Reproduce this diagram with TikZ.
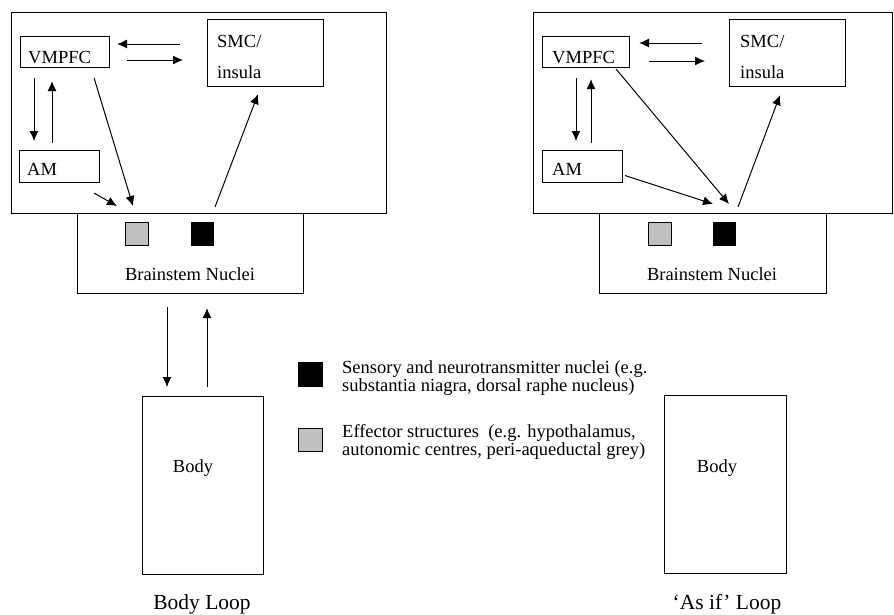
\documentclass[tikz,border=0pt]{standalone}
\usepackage{fontspec}
\setmainfont{Liberation Serif}
\usetikzlibrary{calc,arrows.meta,positioning}
\definecolor{effgrey}{RGB}{192,192,192}
\tikzstyle{box}=[draw,line width=1.1pt,inner sep=0pt,anchor=north west]
\tikzstyle{lbl}=[inner sep=0pt,font=\fontsize{18.5}{18}\selectfont]
\tikzstyle{caption}=[inner sep=0pt,font=\fontsize{21.5}{22}\selectfont]
\tikzstyle{every edge}=[-{Latex[length=10pt,width=9pt]},line width=1pt,draw]

\begin{document}
\begin{tikzpicture}[x=1pt,y=-1pt]
        \useasboundingbox (0,0) rectangle (894,614);
        % Body loop (left):
        \node (outL) [box,minimum width=375pt,minimum height=201pt] at (11,12) {};
        \node (vmL) [box,minimum width=89pt,minimum height=31pt] at (20,36) {};
        \node (smcL) [box,minimum width=116pt,minimum height=67pt] at (207,19) {};
        \node (amL) [box,minimum width=80pt,minimum height=32pt] at (19,150) {};
        \node (bsL) [box,fill=white,minimum width=226pt,minimum height=80pt] at (77,213) {};
        \node (effL) [box,fill=effgrey,minimum width=23pt,minimum height=23pt] at (125,222) {};
        \node (senL) [box,fill=black,minimum width=22pt,minimum height=23pt] at (191,222) {};
        \node (bodyL) [box,minimum width=121pt,minimum height=178pt] at (142,396) {};
        \node (vmLt) [lbl,anchor=base west] at (28,63) {VMPFC};
        \node (smcLt) [lbl,anchor=base west,align=left] at (217,78) {SMC/\\[13pt]insula};
        \node (amLt) [lbl,anchor=base west] at (27,175) {AM};
        \node (bsLt) [lbl,anchor=base] at (190,280) {Brainstem Nuclei};
        \node (bodyLt) [lbl,anchor=base] at (193,472) {Body};
        \node (loopL) [caption,anchor=base] at (202,609) {Body Loop};

        % 'As if' loop (right):
        \node (outR) [box,minimum width=359pt,minimum height=201pt] at (533,12) {};
        \node (vmR) [box,minimum width=87pt,minimum height=31pt] at (542,36) {};
        \node (smcR) [box,minimum width=116pt,minimum height=67pt] at (729,19) {};
        \node (amR) [box,minimum width=80pt,minimum height=32pt] at (542,150) {};
        \node (bsR) [box,fill=white,minimum width=227pt,minimum height=80pt] at (599,213) {};
        \node (effR) [box,fill=effgrey,minimum width=23pt,minimum height=23pt] at (648,222) {};
        \node (senR) [box,fill=black,minimum width=22pt,minimum height=23pt] at (713,222) {};
        \node (bodyR) [box,minimum width=122pt,minimum height=178pt] at (664,395) {};
        \node (vmRt) [lbl,anchor=base west] at (552,63) {VMPFC};
        \node (smcRt) [lbl,anchor=base west,align=left] at (740,78) {SMC/\\[13pt]insula};
        \node (amRt) [lbl,anchor=base west] at (552,175) {AM};
        \node (bsRt) [lbl,anchor=base] at (712,280) {Brainstem Nuclei};
        \node (bodyRt) [lbl,anchor=base] at (717,472) {Body};
        \node (loopR) [caption,anchor=base] at (727,609) {‘As if’ Loop};

        % Legend:
        \node (legSen) [box,fill=black,minimum width=24pt,minimum height=24pt] at (298,362) {};
        \node (legEff) [box,fill=effgrey,minimum width=24pt,minimum height=23pt] at (298,428) {};
        \node (legSent) [lbl,anchor=base west,align=left] at (342,391)
          {Sensory and neurotransmitter nuclei (e.g.\\substantia niagra, dorsal raphe nucleus)};
        \node (legEfft) [lbl,anchor=base west,align=left] at (342,455)
          {Effector structures~ (e.g. hypothalamus,\\autonomic centres, peri-aqueductal grey)};

        \path
        ($(smcL.north west)+(-27,25)$) edge ($(vmL.north east)+(7,8)$)
        ($(vmL.north east)+(17,24)$) edge ($(smcL.north west)+(-24,41)$)
        ($(vmL.south west)+(14,10)$) edge ($(amL.north west)+(15,-9)$)
        ($(amL.north west)+(33,-7)$) edge ($(vmL.south west)+(32,13)$)
        ($(vmL.south east)+(-16,10)$) edge ($(bsL.north west)+(56,-7)$)
        ($(amL.south east)+(-6,10)$) edge ($(bsL.north west)+(40,-7)$)
        ($(bsL.north west)+(138,-6)$) edge ($(smcL.south west)+(51,7)$)
        ($(bsL.south west)+(90,13)$) edge ($(bodyL.north west)+(25,-9)$)
        ($(bodyL.north west)+(65,-9)$) edge ($(bsL.south west)+(130,14)$);

        \path
        ($(smcR.north west)+(-27,24)$) edge ($(vmR.north east)+(9,7)$)
        ($(vmR.north east)+(19,25)$) edge ($(smcR.north west)+(-24,42)$)
        ($(vmR.south west)+(34,10)$) edge ($(amR.north west)+(34,-9)$)
        ($(amR.north west)+(49,-7)$) edge ($(vmR.south west)+(49,11)$)
        ($(vmR.south east)+(-14,1)$) edge ($(bsR.north west)+(130,-9)$)
        ($(amR.east)+(2,9)$) edge ($(bsR.north west)+(114,-9)$)
        ($(bsR.north west)+(139,-6)$) edge ($(smcR.south west)+(51,8)$);
\end{tikzpicture}
\end{document}
